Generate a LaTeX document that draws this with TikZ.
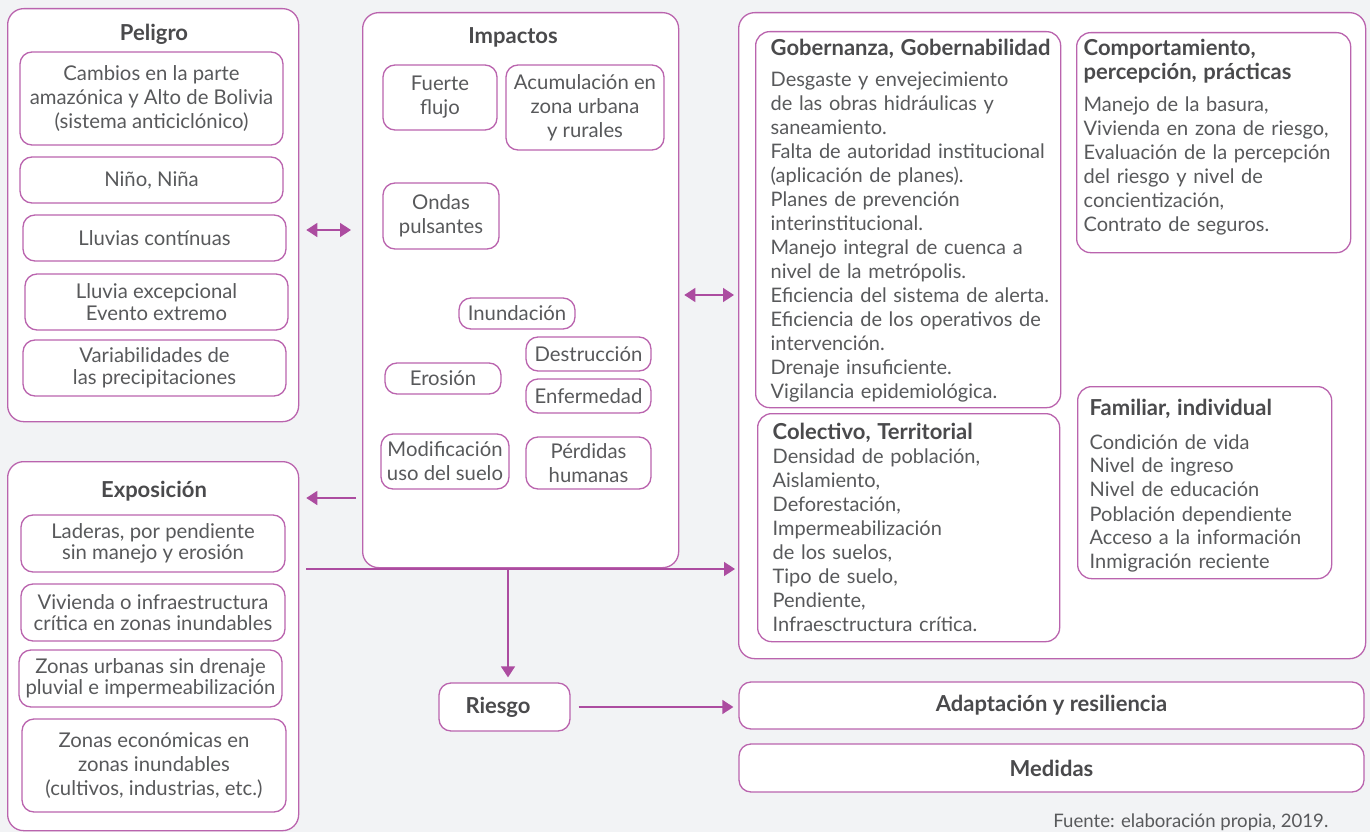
\documentclass[tikz,border=0pt]{standalone}
\usepackage{fontspec}
\setmainfont{Lato}
\usetikzlibrary{arrows.meta}

\definecolor{bgcol}{RGB}{242,243,245}
\definecolor{linecol}{RGB}{186,100,174}
\definecolor{arrowcol}{RGB}{172,76,160}
\definecolor{txtcol}{RGB}{88,89,91}
\definecolor{titlecol}{RGB}{74,74,76}

\tikzset{every picture/.style={line width=1.3pt}}
\tikzset{
  panel/.style={draw=linecol, fill=white, rounded corners=16, anchor=north west, inner sep=0},
  item/.style={draw=linecol, fill=white, rounded corners=12, align=center, inner sep=0, text=txtcol, font=\fontsize{20.3}{24}\selectfont},
  tightitem/.style={item, font=\fontsize{20.3}{21.5}\selectfont},
  boldbox/.style={item, text=titlecol, font=\bfseries\fontsize{22}{24}\selectfont},
  listbox/.style={draw=linecol, fill=white, rounded corners=14, anchor=north west, inner sep=0},
  listtext/.style={anchor=north west, inner sep=0, align=left, text width=300, text=txtcol, font=\fontsize{20}{24}\selectfont},
  heading/.style={text=titlecol, font=\bfseries\fontsize{22}{24}\selectfont},
  arrowline/.style={draw=arrowcol, line width=1.5pt, >={Triangle[length=11,width=14]}},
}

\begin{document}
\begin{tikzpicture}[x=1pt,y=1pt,yscale=-1,xscale=1]
%background, fixes the margins
\fill[bgcol] (0,0) rectangle (1370,832);
\useasboundingbox (0,0) rectangle (1370,832);

%Peligro
\node[panel, minimum width=291, minimum height=413] (peligro) at (7,8) {};
\node[heading] (peligrot) at (154,34) {Peligro};
\node[item, minimum width=263, minimum height=93] (cambios) at (151.5,98.5) {Cambios en la parte\\amazónica y Alto de Bolivia\\(sistema anticiclónico)};
\node[item, minimum width=263, minimum height=46] (nino) at (151.5,180) {Niño, Niña};
\node[item, minimum width=263, minimum height=46] (lluvias) at (154.5,238) {Lluvias contínuas};
\node[tightitem, minimum width=263, minimum height=56] (lluviaexc) at (156.5,302) {Lluvia excepcional\\Evento extremo};
\node[tightitem, minimum width=263, minimum height=56] (variab) at (154.5,368) {Variabilidades de\\las precipitaciones};

%Impactos
\node[panel, minimum width=316, minimum height=555] (impactos) at (362,12) {};
\node[heading] (impactost) at (513,37) {Impactos};
\node[item, minimum width=114, minimum height=65] (flujo) at (440,97.5) {Fuerte\\flujo};
\node[item, minimum width=158, minimum height=85] (acumul) at (585,107.5) {Acumulación en\\zona urbana\\y rurales};
\node[item, minimum width=116, minimum height=66] (ondas) at (441,216) {Ondas\\pulsantes};
\node[item, minimum width=116, minimum height=31] (inund) at (517,313.5) {Inundación};
\node[item, minimum width=125, minimum height=34] (destr) at (588.5,354) {Destrucción};
\node[item, minimum width=116, minimum height=31] (erosion) at (443,378.5) {Erosión};
\node[item, minimum width=125, minimum height=34] (enferm) at (588.5,396) {Enfermedad};
\node[item, minimum width=128, minimum height=55] (modif) at (445,461.5) {Modificación\\uso del suelo};
\node[item, minimum width=125, minimum height=52] (perdidas) at (588.5,463) {Pérdidas\\humanas};

%Vulnerabilidad
\node[panel, minimum width=627, minimum height=646] (vulner) at (738,12) {};
\node[listbox, minimum width=305, minimum height=376] (gober) at (755,31) {};
\node[listtext] (gobert) at (770,39) {{\color{titlecol}\bfseries\fontsize{22}{24}\selectfont Gobernanza, Gobernabilidad}\\[7pt]
Desgaste y envejecimiento\\
de las  obras hidráulicas y\\
saneamiento.\\
Falta de autoridad institucional\\
(aplicación de planes).\\
Planes de prevención\\
interinstitucional.\\
Manejo integral de cuenca a\\
nivel de la metrópolis.\\
Eficiencia del sistema de alerta.\\
Eficiencia de los operativos de\\
intervención.\\
Drenaje insuficiente.\\
Vigilancia epidemiológica.};
\node[listbox, minimum width=274, minimum height=220] (comport) at (1076,32) {};
\node[listtext] (comportt) at (1083,39) {{\color{titlecol}\bfseries\fontsize{22}{24}\selectfont Comportamiento,\\percepción, prácticas}\\[8pt]
Manejo de la basura,\\
Vivienda en zona de riesgo,\\
Evaluación de la percepción\\
del riesgo y nivel de\\
concientización,\\
Contrato de seguros.};
\node[listbox, minimum width=302, minimum height=228] (colect) at (757,413) {};
\node[listtext] (colectt) at (772,422) {{\color{titlecol}\bfseries\fontsize{22}{24}\selectfont Colectivo, Territorial}\\
Densidad de población,\\
Aislamiento,\\
Deforestación,\\
Impermeabilización\\
de los suelos,\\
Tipo de suelo,\\
Pendiente,\\
Infraesctructura crítica.};
\node[listbox, minimum width=254, minimum height=192] (famil) at (1077,386) {};
\node[listtext] (familt) at (1089,399) {{\color{titlecol}\bfseries\fontsize{22}{24}\selectfont Familiar, individual}\\[9pt]
Condición de vida\\
Nivel de ingreso\\
Nivel de educación\\
Población dependiente\\
Acceso a la información\\
Inmigración reciente};

%Exposicion
\node[panel, minimum width=291, minimum height=369] (expo) at (7,461) {};
\node[heading] (expot) at (154,491) {Exposición};
\node[tightitem, minimum width=264, minimum height=57] (laderas) at (153,543.5) {Laderas, por pendiente\\sin manejo y erosión};
\node[tightitem, minimum width=264, minimum height=57] (vivienda) at (153,612.5) {Vivienda o infraestructura\\crítica en zonas inundables};
\node[tightitem, minimum width=263, minimum height=57] (urbanas) at (150.5,678.5) {Zonas urbanas sin drenaje\\pluvial e impermeabilización};
\node[item, minimum width=264, minimum height=93] (econom) at (154,765.5) {Zonas económicas en\\zonas inundables\\(cultivos, industrias, etc.)};

%Riesgo, adaptacion, medidas
\node[boldbox, minimum width=131, minimum height=48] (riesgo) at (504.5,707) {Riesgo\hspace{13pt}};
\node[boldbox, minimum width=625, minimum height=47] (adapt) at (1051.5,705.5) {Adaptación y resiliencia};
\node[boldbox, minimum width=625, minimum height=48] (medidas) at (1051.5,768) {Medidas};

\node[text=txtcol, font=\fontsize{18.6}{20}\selectfont, anchor=south east, inner sep=0] (fuente) at (1329,831) {Fuente: elaboración propia, 2019.};

%Arrows
\draw[arrowline, <->, shorten <=7, shorten >=11] (peligro.east |- 0,230) -- (impactos.west |- 0,230);
\draw[arrowline, <->, shorten <=5, shorten >=4] (impactos.east |- 0,295) -- (vulner.west |- 0,295);
\draw[arrowline, ->, shorten <=6, shorten >=7] (impactos.west |- 0,498) -- (expo.east |- 0,498);
\draw[arrowline, ->, shorten <=7, shorten >=3] (expo.east |- 0,569) -- (vulner.west |- 0,569);
\draw[arrowline, ->, shorten >=5] (508,0 |- impactos.south) -- (508,0 |- riesgo.north);
\draw[arrowline, ->, shorten <=8, shorten >=5] (riesgo.east) -- (riesgo.east -| adapt.west);

\end{tikzpicture}
\end{document}
